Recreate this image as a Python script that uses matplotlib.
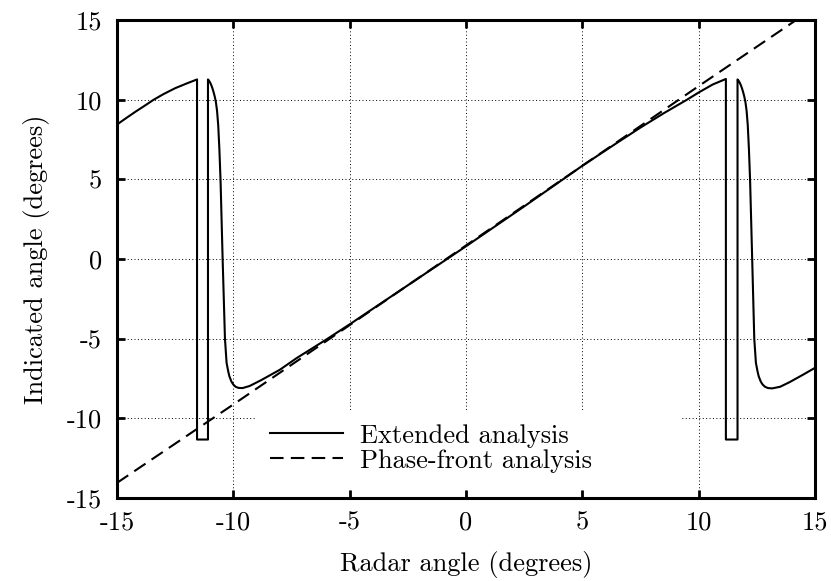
import matplotlib
matplotlib.use("Agg")
import matplotlib.pyplot as plt
from matplotlib.patches import Rectangle

plt.rcParams['font.family'] = ['cmr10', 'DejaVu Serif']
plt.rcParams['axes.unicode_minus'] = False

# extended analysis in pieces
left_x = [-15, -14.6, -14.2, -13.8, -13.42, -13.0, -12.5, -12.0, -11.56]
left_y = [8.44, 8.85, 9.25, 9.63, 10.0, 10.35, 10.72, 11.02, 11.27]

wrap1_x = [-11.56, -11.56, -11.09, -11.09]
wrap1_y = [11.27, -11.33, -11.33, 11.27]

main_x = [-11.05, -11.0, -10.95, -10.9, -10.85, -10.8, -10.75, -10.7, -10.65,
          -10.6, -10.55, -10.46, -10.36, -10.29, -10.22, -10.17, -10.08, -10.0,
          -9.9, -9.78, -9.6, -9.3, -8.8, -8.0, -7.28, -6.0, -5.0,
          -2.5, 0, 2.5, 5, 6.5, 7.5, 8.5, 9.5, 10.0, 10.6, 11.17]
main_y = [11.2, 11.08, 10.92, 10.72, 10.48, 10.2, 9.85, 9.3, 8.4,
          6.9, 4.95, 0.0, -5.0, -6.52, -7.05, -7.36, -7.7, -7.88,
          -8.02, -8.09, -8.1, -7.97, -7.6, -6.95, -6.22, -5.05, -4.1,
          -1.65, 0.8, 3.3, 5.85, 7.3, 8.25, 9.15, 10.0, 10.45, 10.95, 11.3]

wrap2_x = [11.17, 11.17, 11.67, 11.67]
wrap2_y = [11.3, -11.33, -11.33, 11.27]

right_x = [11.71, 11.76, 11.81, 11.86, 11.91, 11.96, 12.01, 12.06, 12.11,
           12.16, 12.21, 12.3, 12.39, 12.46, 12.53, 12.58, 12.67, 12.75,
           12.85, 12.98, 13.16, 13.5, 13.92, 14.5, 15]
right_y = [11.2, 11.08, 10.92, 10.72, 10.48, 10.2, 9.85, 9.3, 8.4,
           6.9, 4.95, 0.0, -5.0, -6.52, -7.05, -7.36, -7.7, -7.88,
           -8.02, -8.1, -8.12, -8.02, -7.72, -7.25, -6.83]

# phase-front analysis
pf_x = [-15, -10, -5, 0, 5, 10, 15]
pf_y = [-14.05, -9.13, -4.15, 0.85, 5.85, 10.85, 15.8]

ticks = [-15, -10, -5, 0, 5, 10, 15]
tick_labels = ['-15', '-10', '-5', '0', '5', '10', '15']

ext_x = left_x + wrap1_x + main_x + wrap2_x + right_x
ext_y = left_y + wrap1_y + main_y + wrap2_y + right_y

fig = plt.figure(figsize=(8.31, 5.81), dpi=100)
ax = fig.add_axes([117/831, 1-498/581, 698/831, 478/581])

ax.plot(ext_x, ext_y, color='k', lw=1.5, label='Extended analysis', zorder=4)
ax.plot(pf_x, pf_y, color='k', lw=1.5, ls=(0, (6.5, 3.5)), label='Phase-front analysis', zorder=4)

ax.set_xlim(-15, 15)
ax.set_ylim(-15, 15)
ax.set_xticks(ticks)
ax.set_xticklabels(tick_labels)
ax.set_yticks(ticks)
ax.set_yticklabels(tick_labels)
ax.tick_params(direction='in', length=6, width=2, top=True, right=True,
               labelsize=19)
ax.tick_params(axis='x', pad=9)
ax.tick_params(axis='y', pad=11)
for s in ax.spines.values():
    s.set_linewidth(2.2)

ax.grid(True, color='k', lw=0.7, ls=(0, (1, 2.5)), zorder=1)
ax.set_axisbelow(True)

# white key box that blanks the grid
ax.add_patch(Rectangle((0.198, 0.017), 0.609, 0.167, transform=ax.transAxes,
                       facecolor='white', edgecolor='none', zorder=2))

ax.legend(loc='upper left', bbox_to_anchor=(0.219, 0.155), frameon=False,
          fontsize=19, handlelength=2.77, handletextpad=0.65, labelspacing=0.05,
          borderpad=0, borderaxespad=0)

ax.set_xlabel('Radar angle (degrees)', fontsize=19, labelpad=12)
ax.set_ylabel('Indicated angle (degrees)', fontsize=19, labelpad=12)

fig.savefig('out.png', dpi=100)
